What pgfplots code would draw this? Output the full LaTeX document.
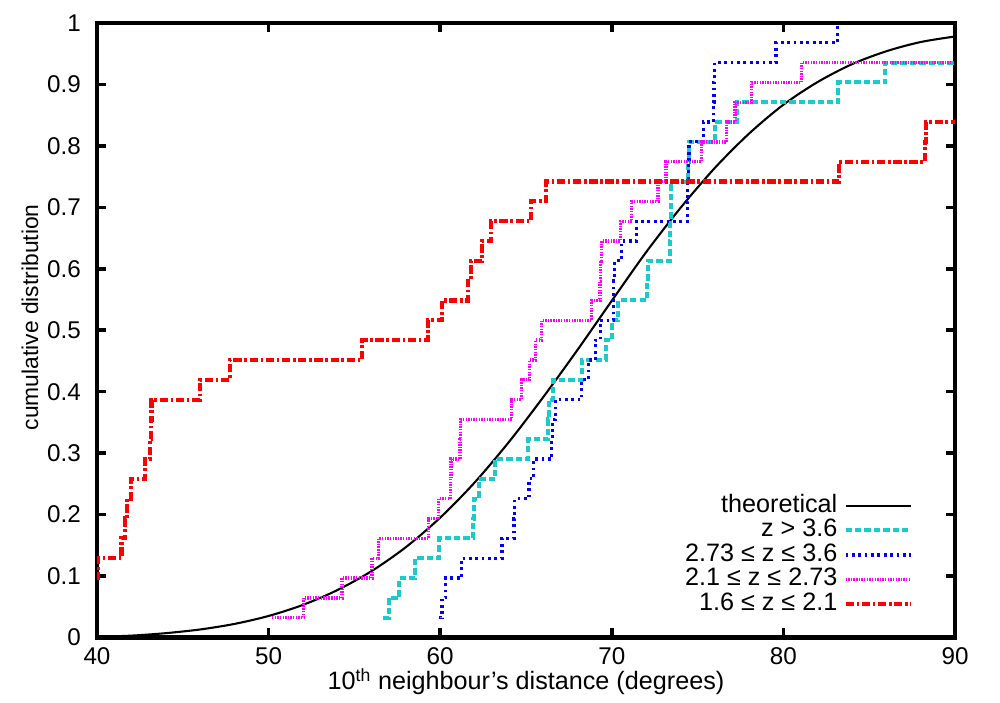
\documentclass[border=0pt]{standalone}
\usepackage{fontspec}
\setmainfont{Liberation Sans}
\usepackage{pgfplots}
\pgfplotsset{compat=1.18}

\definecolor{gpcyan}{rgb}{0.1,0.8,0.8}
\definecolor{gpblue}{rgb}{0,0,0.95}
\definecolor{gpmag}{rgb}{1,0,1}
\definecolor{gpred}{rgb}{1,0,0}

\newcommand{\lbl}{\fontsize{16.5}{19}\selectfont}
\newcommand{\tkl}{\fontsize{17.5}{20}\selectfont}
\newcommand{\biglbl}{\fontsize{18.2}{21}\selectfont}

\begin{document}
\lbl
\begin{tikzpicture}
\begin{axis}[
scale only axis,
width=620.1pt, height=444.1pt,
xmin=40, xmax=90,
ymin=0, ymax=1,
xtick={40,50,60,70,80,90},
ytick={0,0.1,0.2,0.3,0.4,0.5,0.6,0.7,0.8,0.9,1},
yticklabels={0,0.1,0.2,0.3,0.4,0.5,0.6,0.7,0.8,0.9,1},
tick pos=both,
tick align=inside,
major tick length=6.5pt,
every tick/.style={black, line width=2.6pt},
axis line style={line width=3pt},
/pgf/number format/assume math mode=true,
tick label style={font=\tkl},
xticklabel style={yshift=-1.5pt},
yticklabel style={xshift=-6pt},
xlabel={10\textsuperscript{th} neighbour's distance (degrees)},
ylabel={cumulative distribution},
xlabel style={font=\biglbl, at={(axis description cs:0.5,-0.0854)}, anchor=base},
ylabel style={font=\lbl, at={(axis description cs:-0.078,0.521)}, anchor=center},
legend style={draw=none, fill=none, font=\biglbl,
  at={(rel axis cs:0.951,0.235)}, anchor=north east,
  inner sep=0pt, column sep=4pt, row sep=0pt,
  nodes={inner sep=0.5pt, text height=13pt, text depth=3.8pt}},
legend cell align=right,
legend plot pos=right,
legend image code/.code={\draw[#1] (0pt,0pt) -- (47pt,0pt);},
]
\coordinate (sw) at (rel axis cs:0,0);

% theoretical curve
\addplot[black, line width=1.5pt, smooth] coordinates {
(40,0.001)(42,0.003)(44,0.007)(46,0.013)(48,0.022)(50,0.035)(52,0.053)
(54,0.077)(56,0.108)(58,0.147)(60,0.195)(62,0.252)(64,0.318)(66,0.391)
(68,0.468)(70,0.548)(72,0.627)(74,0.699)(76,0.764)(78,0.820)(80,0.867)
(82,0.904)(84,0.933)(86,0.954)(88,0.969)(90,0.978)
};
\addlegendentry{theoretical}

% z > 3.6
\addplot[gpcyan, line width=2.9pt, const plot, dash pattern=on 4.6pt off 2.2pt] coordinates {
(56.65,0.0323)(57.0,0.0645)(57.62,0.0968)(58.53,0.1290)(59.94,0.1613)
(61.92,0.1935)(61.95,0.2258)(62.27,0.2581)(63.2,0.2903)(65.12,0.3226)
(66.3,0.3548)(66.32,0.3871)(66.6,0.4194)(68.25,0.4516)(69.64,0.4839)
(70.03,0.5161)(70.38,0.5484)(72.04,0.5806)(72.1,0.6129)(73.4,0.6452)
(73.41,0.6774)(73.42,0.7097)(73.45,0.7419)(74.45,0.7742)(74.5,0.8065)
(76.0,0.8387)(77.27,0.8710)(83.2,0.9032)(85.92,0.9355)(90,0.9355)
};
\addlegendentry{z > 3.6}

% 2.73 <= z <= 3.6
\addplot[gpblue, line width=2.3pt, const plot, dash pattern=on 2pt off 2.6pt] coordinates {
(59.94,0.0323)(60.1,0.0645)(60.33,0.0968)(61.26,0.1290)(63.6,0.1613)
(64.3,0.1935)(64.35,0.2258)(65.17,0.2581)(65.46,0.2903)(66.5,0.3226)
(66.55,0.3548)(66.72,0.3871)(68.25,0.4194)(68.64,0.4516)(69.03,0.4839)
(69.32,0.5161)(70.09,0.5484)(70.12,0.5806)(70.15,0.6129)(70.58,0.6452)
(71.45,0.6774)(74.4,0.7097)(74.43,0.7419)(74.46,0.7742)(74.5,0.8065)
(75.33,0.8387)(75.92,0.8710)(75.95,0.9032)(75.98,0.9355)(79.57,0.9677)
(83.14,1.0)
};
\addlegendentry{2.73 ≤ z ≤ 3.6}

% 2.1 <= z <= 2.73
\addplot[gpmag, line width=2.4pt, const plot, dash pattern=on 1pt off 0.9pt] coordinates {
(50.2,0.0323)(52.04,0.0645)(54.27,0.0968)(56.02,0.1290)(56.4,0.1613)
(59.32,0.1935)(59.9,0.2258)(60.58,0.2581)(60.62,0.2903)(61.16,0.3226)
(61.2,0.3548)(64.17,0.3871)(64.75,0.4194)(65.2,0.4516)(65.57,0.4839)
(65.92,0.5161)(68.83,0.5484)(69.32,0.5806)(69.36,0.6129)(69.4,0.6452)
(70.5,0.6774)(71.16,0.7097)(72.7,0.7419)(73.16,0.7742)(75.24,0.8065)
(76.7,0.8387)(77.18,0.8710)(78.15,0.9032)(81.06,0.9355)(90,0.9355)
};
\addlegendentry{2.1 ≤ z ≤ 2.73}

% 1.6 <= z <= 2.1
\addplot[gpred, line width=3pt, const plot, dash pattern=on 6pt off 1.9pt on 1.9pt off 1.9pt] coordinates {
(39.9,0.0968)(40.05,0.1290)(41.43,0.1613)(41.63,0.1935)(41.76,0.2258)
(41.96,0.2581)(42.79,0.2903)(43.1,0.3226)(43.14,0.3548)(43.18,0.3871)
(45.99,0.4194)(47.73,0.4516)(55.44,0.4839)(59.27,0.5161)(60.1,0.5484)
(61.63,0.5806)(61.78,0.6129)(62.45,0.6452)(62.97,0.6774)(65.27,0.7097)
(66.16,0.7419)(83.26,0.7742)(88.24,0.8065)(88.3,0.8387)(90,0.8387)
};
\addlegendentry{1.6 ≤ z ≤ 2.1}
\end{axis}
\path (sw) ++(-70.1pt,-45.2pt) rectangle ++(722.7pt,505.9pt);
\end{tikzpicture}
\end{document}
